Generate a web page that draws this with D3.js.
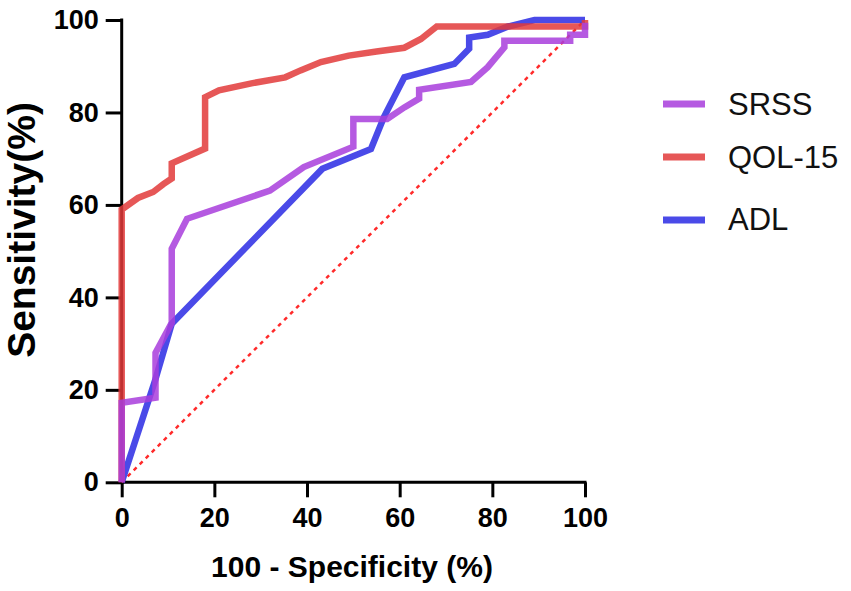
<!DOCTYPE html>
<html>
<head>
<meta charset="utf-8">
<script src="https://cdn.jsdelivr.net/npm/d3@7/dist/d3.min.js"></script>
<style>
  html, body { margin: 0; padding: 0; background: #fff; }
  svg { display: block; }
</style>
</head>
<body>
<svg id="chart" width="851" height="591"></svg>
<script>
// ROC curves, [100 - specificity, sensitivity] in %
const srss = [[0,0],[0,17.2],[7.3,18.3],[7.3,28],[10.8,34.5],[10.8,50.5],[14.1,57],[32,63.1],[39.3,68.2],
  [50,72.6],[50,78.6],[57.3,78.6],[61,81.1],[64.2,83],[64.2,84.9],[75.4,86.6],[79,89.8],[82.6,94.1],
  [82.6,95.5],[96.8,95.5],[96.8,96.8],[100,96.8],[100,99.4]];
const qol15 = [[0,0],[0,59],[3.5,61.5],[6.8,62.8],[9,64.5],[10.8,65.7],[10.8,69],[18,72.2],[18,83.3],
  [21,84.8],[28,86.3],[35.3,87.6],[38.6,89.1],[43,90.9],[49,92.3],[55,93.2],[61,94],[64.6,95.9],
  [68,98.6],[100,98.6],[100,100]];
const adl = [[0,0],[7.2,22],[10.8,34.3],[43.3,67.8],[53.8,72.1],[56.6,79],[61,87.6],[71.8,90.5],
  [75,93.8],[75,96.2],[79,96.8],[83.4,98.6],[89.1,100],[100,100]];

const seriesNames = ['SRSS', 'QOL-15', 'ADL'];
const seriesColors = ['#a83ddc', '#e23a3a', '#2a2ae4'];
const xTicks = [0, 20, 40, 60, 80, 100];
const yTicks = [0, 20, 40, 60, 80, 100];

const font = "'Liberation Sans', Arial, sans-serif";
const svg = d3.select('#chart');

const x = d3.scaleLinear().domain([0, 100]).range([121.7, 585]);
const y = d3.scaleLinear().domain([0, 100]).range([482.3, 20]);

// axes
const xAxis = svg.append('g')
  .attr('transform', `translate(0,${y(0)})`)
  .call(d3.axisBottom(x).tickValues(xTicks).tickSize(15).tickPadding(11).tickSizeOuter(0));
const yAxis = svg.append('g')
  .attr('transform', `translate(${x(0)},0)`)
  .call(d3.axisLeft(y).tickValues(yTicks).tickSize(16).tickPadding(7).tickSizeOuter(0));

[xAxis, yAxis].forEach(g => {
  g.selectAll('path, line').attr('stroke', '#000').attr('stroke-width', 3);
  g.selectAll('text')
    .attr('fill', '#000')
    .style('font-family', font)
    .style('font-weight', 'bold')
    .style('font-size', '27px');
});
xAxis.select('.domain').attr('d', `M${x(0) - 1.5},0H${x(100) + 1.5}`);
yAxis.select('.domain').attr('d', `M0,${y(0) + 1.5}V${y(100) - 1.5}`);

// axis titles
svg.append('text')
  .attr('x', 352).attr('y', 577)
  .attr('text-anchor', 'middle')
  .style('font-family', font).style('font-weight', 'bold').style('font-size', '30px')
  .text('100 - Specificity (%)');

svg.append('text')
  .attr('transform', 'translate(35,230) rotate(-90)')
  .attr('text-anchor', 'middle')
  .style('font-family', font).style('font-weight', 'bold').style('font-size', '39px')
  .text('Sensitivity(%)');

// chance line
svg.append('line')
  .attr('x1', x(0)).attr('y1', y(0))
  .attr('x2', x(100)).attr('y2', y(100))
  .attr('stroke', '#ff2a2a')
  .attr('stroke-width', 2.5)
  .attr('stroke-dasharray', '4,4.5');

const line = d3.line().x(d => x(d[0])).y(d => y(d[1]));

const curves = [adl, qol15, srss];
const curveColors = [seriesColors[2], seriesColors[1], seriesColors[0]];

svg.append('g')
  .selectAll('path')
  .data(curves)
  .enter().append('path')
  .attr('d', line)
  .attr('fill', 'none')
  .attr('stroke', (d, i) => curveColors[i])
  .attr('stroke-opacity', 0.85)
  .attr('stroke-width', 6.5)
  .attr('stroke-linejoin', 'miter');

// legend
const legendY = [104, 157, 220];
const legend = svg.append('g')
  .selectAll('g')
  .data(seriesNames)
  .enter().append('g')
  .attr('transform', (d, i) => `translate(0,${legendY[i]})`);

legend.append('line')
  .attr('x1', 663).attr('x2', 705)
  .attr('stroke', (d, i) => seriesColors[i])
  .attr('stroke-opacity', 0.85)
  .attr('stroke-width', 7);

legend.append('text')
  .attr('x', 728).attr('y', (d, i) => [11, 11, 10][i])
  .style('font-family', font).style('font-size', '31px')
  .attr('fill', '#111')
  .text(d => d);
</script>
</body>
</html>
